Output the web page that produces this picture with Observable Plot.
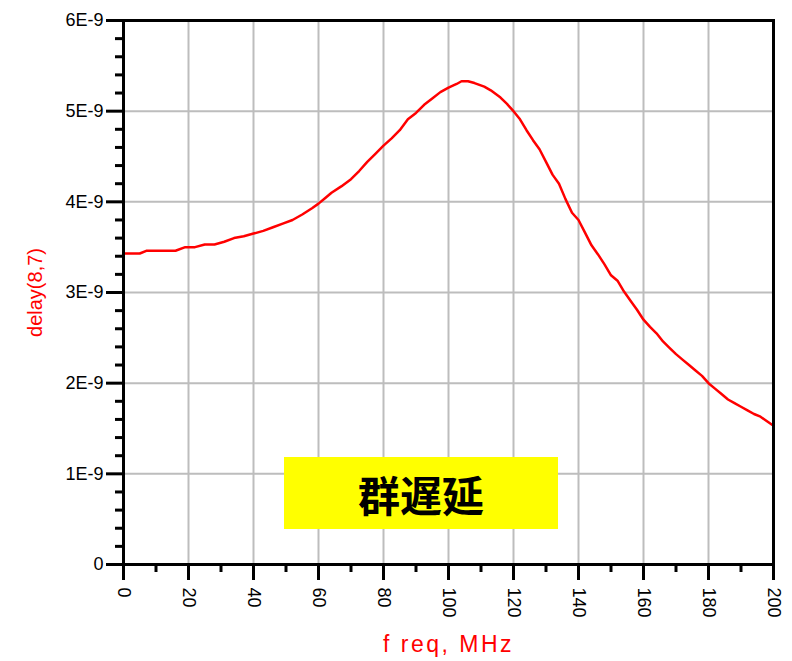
<!DOCTYPE html>
<html><head><meta charset="utf-8">
<script src="https://cdn.jsdelivr.net/npm/d3@7"></script>
<script src="https://cdn.jsdelivr.net/npm/@observablehq/plot@0.6"></script>
<style>
body{margin:0;background:#fff;}
#wrap{position:relative;width:792px;height:661px;}
#box{position:absolute;left:284px;top:457px;width:274px;height:72px;background:#ffff00;display:flex;align-items:center;justify-content:center;font-family:"Noto Sans CJK JP",sans-serif;font-weight:bold;font-size:42px;color:#000;}
</style></head><body>
<div id="wrap"><div id="box">群遅延</div></div>
<script>
// frequency (MHz)
const freq = [0,5,7,16,19,22,25,28,31,34,37,40,43,46,49,52,55,58,60,62,64,67,70,72.5,75,77.5,80,82.5,85,87.5,90,92.5,95,97.5,100,102.5,104,106,108,111,113,116,118,120,122,124,126,128,130,132,134,136,138,140,142,144,146,148,150,152,154,156,158,160,162,164,166,168,170,172,174,176,178,180,182,184,186,188,190,192,194,196,198,200];
// group delay, units of 1E-9 s
const delay = [3.43,3.43,3.46,3.46,3.50,3.50,3.53,3.53,3.56,3.60,3.62,3.65,3.68,3.72,3.76,3.80,3.86,3.93,3.98,4.04,4.10,4.17,4.25,4.34,4.44,4.53,4.62,4.70,4.79,4.91,4.98,5.07,5.14,5.21,5.26,5.30,5.33,5.33,5.31,5.27,5.23,5.15,5.08,5.00,4.91,4.79,4.68,4.58,4.44,4.30,4.20,4.03,3.88,3.80,3.66,3.52,3.42,3.31,3.19,3.13,3.01,2.91,2.81,2.70,2.62,2.55,2.46,2.39,2.32,2.26,2.20,2.14,2.08,2.00,1.94,1.88,1.82,1.78,1.74,1.70,1.66,1.63,1.58,1.53];
const xTicks = [0,20,40,60,80,100,120,140,160,180,200];
const yTicks = [0,1,2,3,4,5,6];
const yTickLabels = ["0","1E-9","2E-9","3E-9","4E-9","5E-9","6E-9"];
const xLabel = "f req, MHz";
const yLabel = "delay(8,7)";

const data = freq.map((f,i)=>({freq:f, delay:delay[i]}));
const xMinor = d3.range(10,200,20);
const yMinor = d3.range(0,30).map(i=>i*0.2).filter((v,i)=>i%5!==0);

const chart = Plot.plot({
  width:792, height:661,
  marginLeft:123, marginRight:19, marginTop:20, marginBottom:97,
  style:{fontFamily:"'Liberation Sans', Arial, sans-serif", fontSize:"18px", background:"#fff", overflow:"visible"},
  x:{domain:[0,200]},
  y:{domain:[0,6]},
  marks:[
    Plot.gridX(xTicks.slice(1,-1), {stroke:"#bdbdbd", strokeWidth:2, strokeOpacity:1}),
    Plot.gridY(yTicks.slice(1,-1), {stroke:"#bdbdbd", strokeWidth:2, strokeOpacity:1}),
    Plot.line(data, {x:"freq", y:"delay", stroke:"#ff0000", strokeWidth:2.5}),
    Plot.frame({stroke:"#000", strokeWidth:3}),
    Plot.axisY(yMinor, {tickSize:8, tickFormat:()=>"", strokeWidth:3, label:null}),
    Plot.axisY(yTicks, {tickSize:17, tickPadding:3, tickFormat:d=>yTickLabels[yTicks.indexOf(d)], strokeWidth:3, fontSize:18, label:null}),
    Plot.axisX(xMinor, {tickSize:8, tickFormat:()=>"", strokeWidth:3, label:null}),
    Plot.axisX(xTicks, {tickSize:16, tickPadding:7, tickRotate:90, fontSize:18, strokeWidth:3, label:null}),
    Plot.text([yLabel], {text:d=>d, frameAnchor:"left", textAnchor:"middle", dx:-88, rotate:-90, fill:"#ff0000", fontSize:20}),
    Plot.text([xLabel], {text:d=>d, frameAnchor:"bottom", textAnchor:"middle", dy:87, fill:"#ff0000", fontSize:23})
  ]
});
chart.querySelectorAll("text").forEach(t=>{ if (t.textContent===xLabel) t.style.letterSpacing="2.5px"; });
const wrap = document.getElementById("wrap");
wrap.insertBefore(chart, wrap.firstChild);
</script>
</body></html>
